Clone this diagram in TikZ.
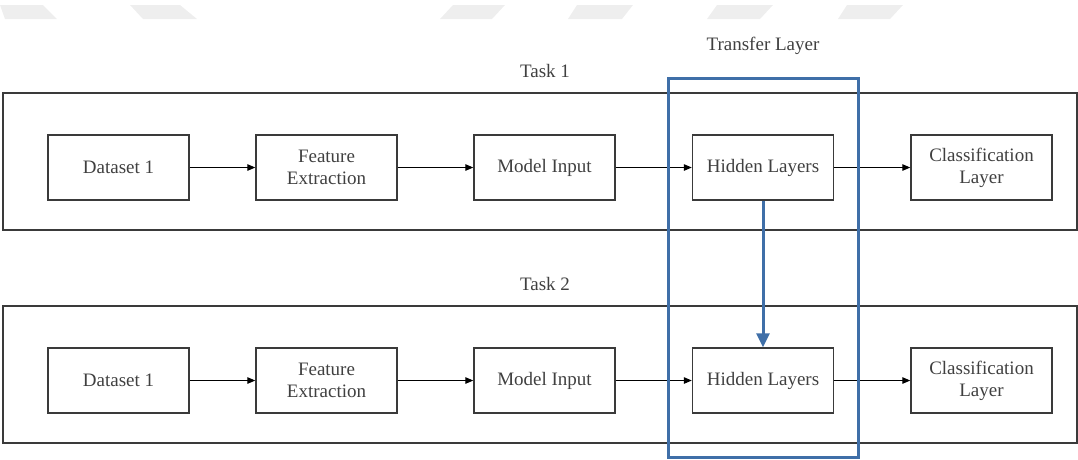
\documentclass[tikz,border=0pt]{standalone}
\usepackage{fontspec}
\setmainfont{Liberation Serif}
\usetikzlibrary{arrows.meta}
\definecolor{txtgrey}{HTML}{404040}
\definecolor{linegrey}{HTML}{3A3A3A}
\definecolor{tlblue}{HTML}{3F6FA8}
\definecolor{wmgrey}{HTML}{EEEEEE}
\begin{document}
\begin{tikzpicture}[x=1pt,y=-1pt,
  blk/.style={draw=linegrey,line width=1.4pt,minimum width=141pt,minimum height=65pt,inner sep=0pt,align=center,text=txtgrey,font=\fontsize{19}{22}\selectfont},
  taskbox/.style={draw=linegrey,line width=1.4pt,minimum width=1074pt,minimum height=137pt,inner sep=0pt},
  lbl/.style={text=txtgrey,font=\fontsize{19}{22}\selectfont,inner sep=0pt},
  arr/.style={draw=black,line width=1.1pt,-{Triangle[length=8pt,width=6.5pt]}},
  blu/.style={draw=tlblue,line width=3pt},
  wm/.style={fill=wmgrey,draw=none}]
\useasboundingbox (0,0) rectangle (1078,459);
% faint watermark shapes
\fill[wm] (0,5) -- (43,5) -- (57,19) -- (5,19) -- cycle;
\fill[wm] (130,5) -- (180,5) -- (197,19) -- (143,19) -- cycle;
\fill[wm] (453,5) -- (505,5) -- (492,19) -- (440,19) -- cycle;
\fill[wm] (577,5) -- (633,5) -- (622,19) -- (568,19) -- cycle;
\fill[wm] (717,5) -- (773,5) -- (760,19) -- (707,19) -- cycle;
\fill[wm] (847,5) -- (903,5) -- (890,19) -- (838,19) -- cycle;
% task containers
\node[taskbox] (t1) at (540,161.5) {};
\node[taskbox] (t2) at (540,374.5) {};
\node[lbl] (t1l) at (545,71) {Task 1};
\node[lbl] (t2l) at (545,284) {Task 2};
\node[lbl] (tll) at (763,46) {Transfer Layer};
% row 1
\node[blk] (a1) at (118.5,167.5) {Dataset 1};
\node[blk] (b1) at (326.5,167.5) {Feature\\Extraction};
\node[blk] (c1) at (544.5,167.5) {Model Input};
\node[blk] (d1) at (763,167.5) {Hidden Layers};
\node[blk] (e1) at (981.5,167.5) {Classification\\Layer};
% row 2
\node[blk] (a2) at (118.5,380.5) {Dataset 1};
\node[blk] (b2) at (326.5,380.5) {Feature\\Extraction};
\node[blk] (c2) at (544.5,380.5) {Model Input};
\node[blk] (d2) at (763,380.5) {Hidden Layers};
\node[blk] (e2) at (981.5,380.5) {Classification\\Layer};
\foreach \r in {1,2}{
  \draw[arr] (a\r) -- (b\r);
  \draw[arr] (b\r) -- (c\r);
  \draw[arr] (c\r) -- (d\r);
  \draw[arr] (d\r) -- (e\r);
}
% transfer layer
\node[blu,minimum width=190pt,minimum height=379pt,inner sep=0pt] (tl) at (763.5,267.5) {};
\draw[blu,-{Triangle[length=14pt,width=13pt]}] (d1.south) -- (d2.north);
\end{tikzpicture}
\end{document}
